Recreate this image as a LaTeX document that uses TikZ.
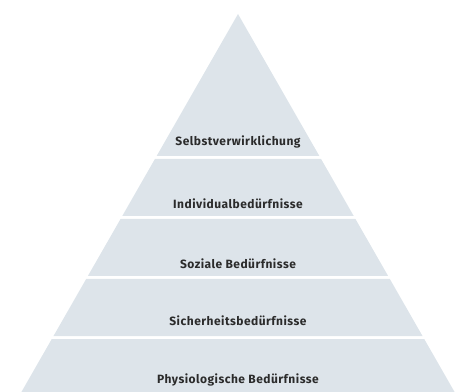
\documentclass[tikz,border=0pt]{standalone}
\usepackage{fontspec}
\setmainfont{Fira Sans}[LetterSpace=4]
\definecolor{bandfill}{HTML}{DDE4EA}
\definecolor{labeltext}{HTML}{2B2B2B}
\tikzset{
    band/.style={fill=bandfill, draw=none},
    bandlabel/.style={text=labeltext, font=\fontsize{12}{14}\selectfont\bfseries, inner sep=0pt}
}
\begin{document}
\begin{tikzpicture}[x=1pt, y=1pt]
    % Frame
    \useasboundingbox (0,0) rectangle (463,391);
    \clip (0,0) rectangle (463,391);

    % Bands (top, bottom, label height, name, text)
    \foreach \t/\b/\l/\n/\txt in {
        14/156/142/selbst/Selbstverwirklichung,
        159/216/204/indiv/Individualbedürfnisse,
        219/276/264/sozial/Soziale Bedürfnisse,
        279/336/321/sicher/Sicherheitsbedürfnisse,
        339/405/380/physio/Physiologische Bedürfnisse}
    {
        \fill[band] ({238-0.573*(\t-14)},{391-\t}) -- ({238+0.573*(\t-14)},{391-\t})
            -- ({238+0.573*(\b-14)},{391-\b}) -- ({238-0.573*(\b-14)},{391-\b}) -- cycle;
        \node[bandlabel] (\n) at (238,{391-\l}) {\txt};
    }
\end{tikzpicture}
\end{document}
